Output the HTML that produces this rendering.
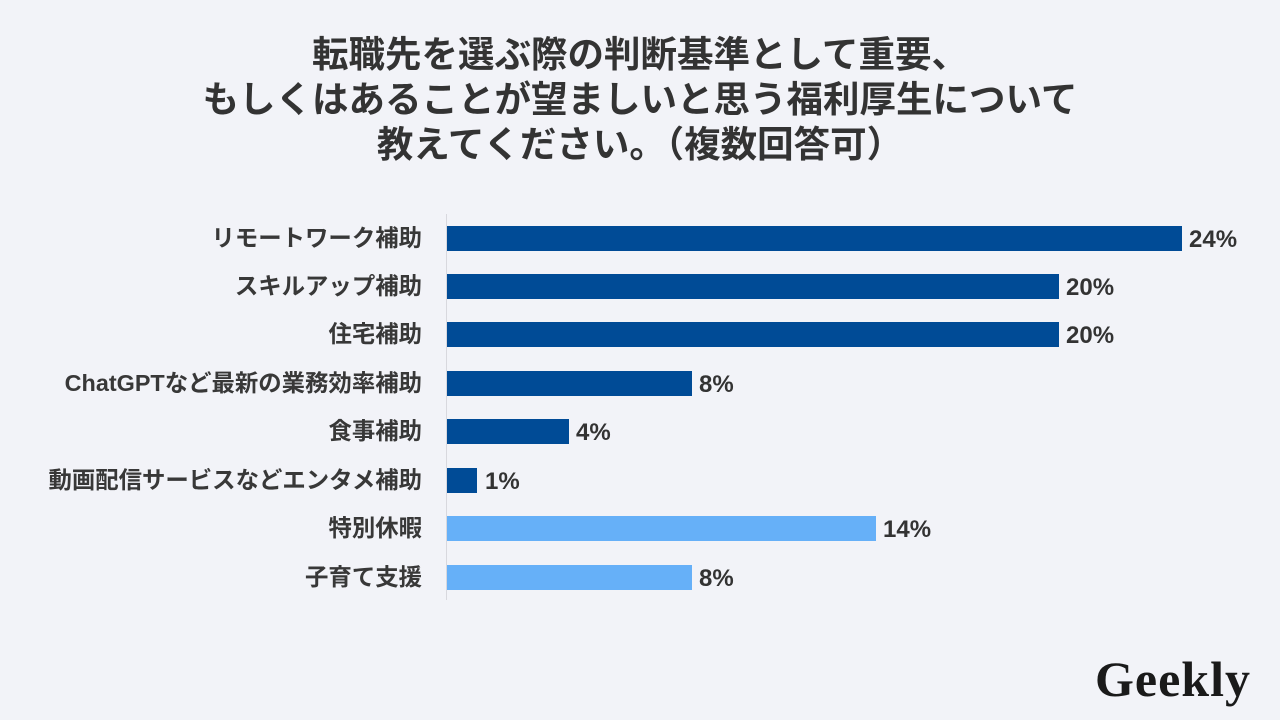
<!DOCTYPE html>
<html><head><meta charset="utf-8"><style>
body{margin:0;width:1280px;height:720px;background:#f2f3f8;position:relative;overflow:hidden;font-family:"Liberation Sans","Noto Sans CJK JP",sans-serif;color:#333}
.t{position:absolute;left:0;width:1280px;text-align:center;font-size:36.5px;font-weight:bold;line-height:45px;top:32px;color:#333}
.ax{position:absolute;left:446px;top:214px;width:1px;height:386px;background:#d8d8de}
.b{position:absolute;left:447px;height:25px}
.l{position:absolute;right:858px;font-size:23.4px;font-weight:bold;color:#383838;line-height:25px;white-space:nowrap}
.v{position:absolute;font-size:24px;font-weight:bold;color:#333;line-height:25px}
.logo{position:absolute;left:1095px;top:650px;font-family:"Liberation Serif",serif;font-weight:bold;font-size:50px;color:#1a1a1a;letter-spacing:1px}
</style></head><body>
<div class="t">転職先を選ぶ際の判断基準として重要、<br>もしくはあることが望ましいと思う福利厚生について<br>教えてください。（複数回答可）</div>
<div class="ax"></div>
<div class="l" style="top:226px">リモートワーク補助</div><div class="b" style="top:226px;width:735px;background:#004b96"></div><div class="v" style="top:227px;left:1189px">24%</div>
<div class="l" style="top:274px">スキルアップ補助</div><div class="b" style="top:274px;width:612px;background:#004b96"></div><div class="v" style="top:275px;left:1066px">20%</div>
<div class="l" style="top:322px">住宅補助</div><div class="b" style="top:322px;width:612px;background:#004b96"></div><div class="v" style="top:323px;left:1066px">20%</div>
<div class="l" style="top:371px">ChatGPTなど最新の業務効率補助</div><div class="b" style="top:371px;width:245px;background:#004b96"></div><div class="v" style="top:372px;left:699px">8%</div>
<div class="l" style="top:419px">食事補助</div><div class="b" style="top:419px;width:122px;background:#004b96"></div><div class="v" style="top:420px;left:576px">4%</div>
<div class="l" style="top:468px">動画配信サービスなどエンタメ補助</div><div class="b" style="top:468px;width:30px;background:#004b96"></div><div class="v" style="top:469px;left:485px">1%</div>
<div class="l" style="top:516px">特別休暇</div><div class="b" style="top:516px;width:429px;background:#66b0f8"></div><div class="v" style="top:517px;left:883px">14%</div>
<div class="l" style="top:565px">子育て支援</div><div class="b" style="top:565px;width:245px;background:#66b0f8"></div><div class="v" style="top:566px;left:699px">8%</div>
<div class="logo">Geekly</div>
</body></html>
